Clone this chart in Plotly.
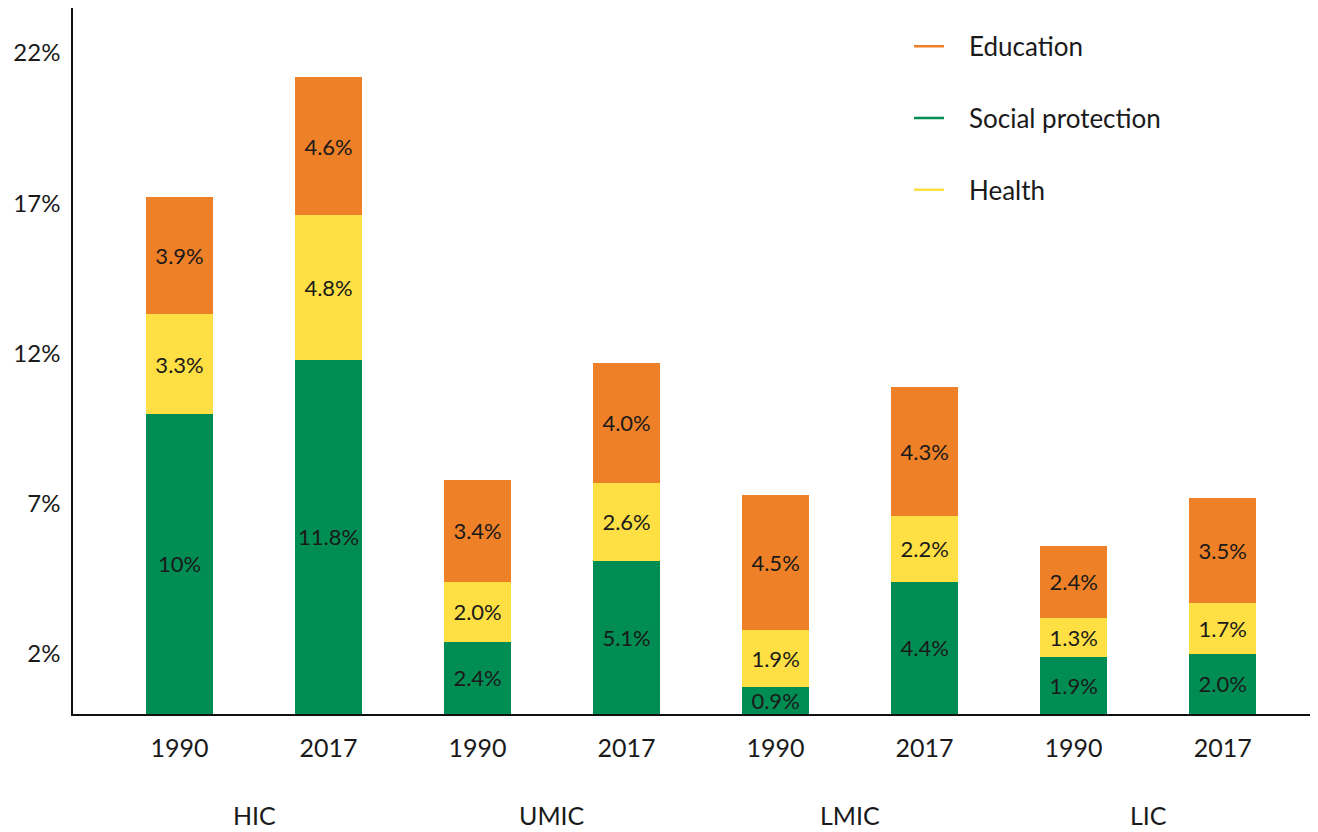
import plotly.graph_objects as go

# ---------------------------------------------------------------------------
# Data: spending as % of GDP, by income group and year
# ---------------------------------------------------------------------------
groups = ["HIC", "HIC", "UMIC", "UMIC", "LMIC", "LMIC", "LIC", "LIC"]
years = ["1990", "2017", "1990", "2017", "1990", "2017", "1990", "2017"]

social_protection = [10.0, 11.8, 2.4, 5.1, 0.9, 4.4, 1.9, 2.0]
health = [3.3, 4.8, 2.0, 2.6, 1.9, 2.2, 1.3, 1.7]
education = [3.9, 4.6, 3.4, 4.0, 4.5, 4.3, 2.4, 3.5]

social_labels = ["10%", "11.8%", "2.4%", "5.1%", "0.9%", "4.4%", "1.9%", "2.0%"]

y_ticks = [2, 7, 12, 17, 22]
group_names = ["HIC", "UMIC", "LMIC", "LIC"]

_GREEN = "#008D54"
_YELLOW = "#FFE044"
_ORANGE = "#EE8027"
_FONT = "Lato, 'Open Sans', sans-serif"
_TEXT = "#1a1a1a"
_NBSP = "\u00a0"

cats = [f"{g} {y}" for g, y in zip(groups, years)]

fig = go.Figure()

series = [
    ("Social protection", social_protection, _GREEN, social_labels),
    ("Health", health, _YELLOW, None),
    ("Education", education, _ORANGE, None),
]
for name, vals, color, labels in series:
    fig.add_trace(
        go.Bar(
            x=cats,
            y=vals,
            name=name,
            marker=dict(color=color, line=dict(width=0)),
            text=labels if labels else [f"{v:.1f}%" for v in vals],
            textposition="inside",
            insidetextanchor="middle",
            textangle=0,
            constraintext="none",
            textfont=dict(size=22, color=_TEXT, family=_FONT),
            showlegend=False,
            hoverinfo="skip",
        )
    )

# legend entries drawn as short lines
for name, color in [("Education", _ORANGE), ("Social protection", _GREEN), ("Health", _YELLOW)]:
    fig.add_trace(
        go.Scatter(
            x=[None], y=[None], mode="lines", name=_NBSP * 3 + name,
            line=dict(color=color, width=2.5),
            legendgroup=name,
        )
    )

# income group labels under the year ticks
for i, g in enumerate(group_names):
    fig.add_annotation(
        x=2 * i + 0.5, y=-0.143, xref="x", yref="paper",
        text=g, showarrow=False, yanchor="middle", borderpad=0,
        font=dict(size=25, color=_TEXT, family=_FONT),
    )

# page body adds an 8px margin, so the figure is sized to fit the window
fig.update_layout(
    barmode="stack",
    bargap=0.55,
    width=1310,
    height=824,
    paper_bgcolor="white",
    plot_bgcolor="white",
    font=dict(family=_FONT, color=_TEXT),
    margin=dict(l=65, r=0, t=0, b=118),
    legend=dict(
        x=0.6715, y=0.979, xanchor="left", yanchor="top",
        font=dict(size=26, color=_TEXT, family=_FONT),
        tracegroupgap=35,
        traceorder="grouped",
        bgcolor="rgba(0,0,0,0)",
        itemwidth=30,
    ),
    xaxis=dict(
        type="category",
        tickvals=cats,
        ticktext=years,
        range=[-0.715, 7.64],
        showline=True,
        linecolor="#111",
        linewidth=2,
        ticks="",
        ticklabelstandoff=11,
        tickfont=dict(size=25, color=_TEXT, family=_FONT),
        showgrid=False,
        zeroline=False,
    ),
    yaxis=dict(
        range=[0, 23.5],
        tickvals=y_ticks,
        ticktext=[f"{t}%" for t in y_ticks],
        showline=True,
        linecolor="#111",
        linewidth=1.5,
        ticks="",
        ticklabelstandoff=6,
        tickfont=dict(size=24, color=_TEXT, family=_FONT),
        showgrid=False,
        zeroline=False,
    ),
)

fig.write_html("out.html")
